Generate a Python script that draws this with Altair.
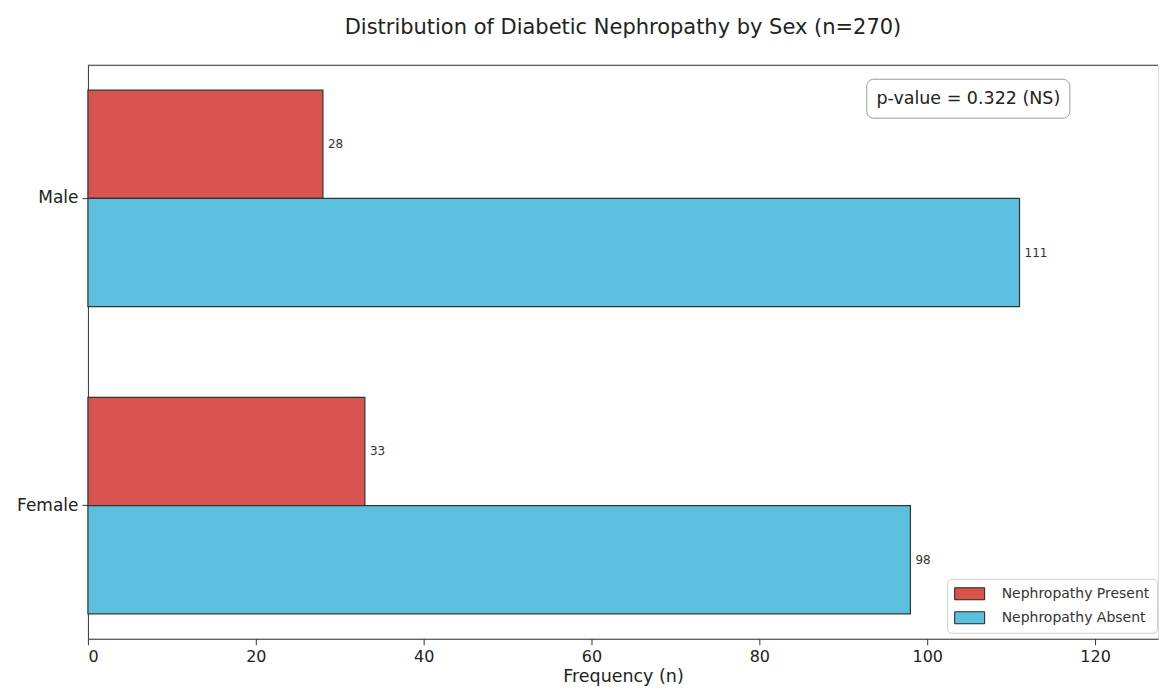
import altair as alt
import pandas as pd

sexes = ["Male", "Female"]
statuses = ["Nephropathy Present", "Nephropathy Absent"]
present = [28, 33]
absent = [111, 98]
colors = ["#d9534f", "#5bc0de"]
x_ticks = [0, 20, 40, 60, 80, 100, 120]
annotation = "p-value = 0.322 (NS)"

rows = []
for s, p, a in zip(sexes, present, absent):
    rows.append({"sex": s, "status": statuses[0], "n": p})
    rows.append({"sex": s, "status": statuses[1], "n": a})
df = pd.DataFrame(rows)

FONT = "DejaVu Sans"
W, H = 1071, 574
XMAX = 127.5

xscale = alt.Scale(domain=[0, XMAX], nice=False, zero=True)
yscale = alt.Scale(domain=sexes, paddingInner=0.295, paddingOuter=0.081)
yoff_scale = alt.Scale(domain=statuses, paddingInner=0, paddingOuter=0)

base = alt.Chart(df)

bars = base.mark_bar(stroke="#333333", strokeWidth=1.2, opacity=1).encode(
    x=alt.X("n:Q", scale=xscale,
            axis=alt.Axis(values=x_ticks, title="Frequency (n)", grid=False,
                          domainColor="#333333", tickColor="#333333", tickSize=6,
                          labelFontSize=16, titleFontSize=17.5, labelColor="#222222",
                          titleColor="#222222", labelPadding=4, titlePadding=3,
                          titleFontWeight="normal", labelFont=FONT, titleFont=FONT)),
    y=alt.Y("sex:N", scale=yscale, sort=sexes,
            axis=alt.Axis(title=None, domainColor="#333333", tickColor="#333333",
                          tickSize=6, labelFontSize=17, labelColor="#222222",
                          labelPadding=4, labelFont=FONT)),
    yOffset=alt.YOffset("status:N", scale=yoff_scale, sort=statuses),
    color=alt.Color("status:N", scale=alt.Scale(domain=statuses, range=colors),
                    sort=statuses,
                    legend=alt.Legend(title=None, orient="none", legendX=860, legendY=514,
                                      fillColor="white", strokeColor="#d0d0d0",
                                      padding=7, cornerRadius=4,
                                      symbolType="M-2,-0.8H2V0.8H-2Z", symbolSize=225,
                                      symbolOffset=7.5,
                                      symbolStrokeColor="#222222", symbolStrokeWidth=1,
                                      symbolOpacity=1, labelFont=FONT,
                                      labelFontSize=14, labelColor="#333333",
                                      rowPadding=8, labelOffset=24)),
)

labels = base.mark_text(align="left", baseline="middle", dx=5, fontSize=12,
                        color="#333333", font=FONT).encode(
    x=alt.X("n:Q", scale=xscale),
    y=alt.Y("sex:N", scale=yscale, sort=sexes),
    yOffset=alt.YOffset("status:N", scale=yoff_scale, sort=statuses),
    text="n:Q",
)

ann_df = pd.DataFrame({"x1": [92.8], "x2": [117.0], "xm": [104.9], "label": [annotation]})
ann_box = alt.Chart(ann_df).mark_rect(fill="white", stroke="#999999", strokeWidth=1,
                                       cornerRadius=7).encode(
    x=alt.X("x1:Q", scale=xscale), x2="x2:Q",
    y=alt.value(14), y2=alt.value(53),
)
ann_text = alt.Chart(ann_df).mark_text(fontSize=17.5, color="#222222", font=FONT,
                                        baseline="middle").encode(
    x=alt.X("xm:Q", scale=xscale), y=alt.value(33.5), text="label:N",
)

top_rule = alt.Chart(ann_df).mark_rule(color="#333333", strokeWidth=1).encode(
    x=alt.value(0), x2=alt.value(W), y=alt.value(0)
)

chart = alt.layer(bars, labels, ann_box, ann_text, top_rule).properties(
    width=W, height=H,
    title=alt.TitleParams("Distribution of Diabetic Nephropathy by Sex (n=270)",
                          fontSize=21, fontWeight="normal", color="#222222",
                          font=FONT, offset=27, anchor="middle"),
    padding={"left": 8, "top": 8, "right": 0, "bottom": 0},
).configure_view(stroke=None).configure(font=FONT)

chart.save("out.html", embed_options={"renderer": "svg", "actions": False})
